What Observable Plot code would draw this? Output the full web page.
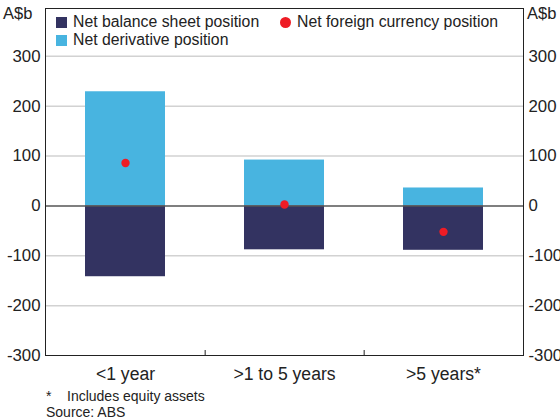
<!DOCTYPE html>
<html>
<head>
<meta charset="utf-8">
<script src="https://cdn.jsdelivr.net/npm/d3@7"></script>
<script src="https://cdn.jsdelivr.net/npm/@observablehq/plot@0.6"></script>
<style>
  html, body { margin: 0; padding: 0; background: #fff; overflow: hidden; }
  #wrap { position: relative; width: 560px; height: 419px; font-family: "Liberation Sans", Arial, sans-serif; color: #222; }
  #chart { position: absolute; left: 0; top: 0; }
  .unit { position: absolute; top: 4px; font-size: 16.5px; }
  .leg { position: absolute; font-size: 15.8px; white-space: nowrap; }
  .sw { display: inline-block; width: 11px; height: 11px; margin-right: 6px; vertical-align: -1px; }
  .dot { display: inline-block; width: 11px; height: 11px; border-radius: 50%; margin-right: 6px; vertical-align: -1px; }
  .note { position: absolute; left: 46px; font-size: 14px; white-space: nowrap; }
</style>
</head>
<body>
<div id="wrap">
  <div id="chart"></div>
  <div class="unit" style="left:3px">A$b</div>
  <div class="unit" style="left:527px">A$b</div>
  <div class="leg" style="left:56px; top:13px"><span class="sw" style="background:#333361"></span>Net balance sheet position</div>
  <div class="leg" style="left:56px; top:31px"><span class="sw" style="background:#48B4E0"></span>Net derivative position</div>
  <div class="leg" style="left:280px; top:13px"><span class="dot" style="background:#EE1C25"></span>Net foreign currency position</div>
  <div class="note" style="top:388px"><span style="display:inline-block;width:21px">*</span>Includes equity assets</div>
  <div class="note" style="top:404px">Source: ABS</div>
</div>
<script>
const categories = ["<1 year", ">1 to 5 years", ">5 years*"];
const balanceSheet = [-142, -88, -89];
const derivative = [229, 92, 36];
const foreignCurrency = [86, 3, -52];
const yTicks = [-300, -200, -100, 0, 100, 200, 300];

const W = 560, H = 390, ML = 45, MR = 37, MT = 8, MB = 35;
const half = (W - ML - MR) / categories.length / 2;

const rows = categories.map((c, i) => ({cat: c, bal: balanceSheet[i], der: derivative[i], fx: foreignCurrency[i]}));

const chart = Plot.plot({
  width: W, height: H,
  marginLeft: ML, marginRight: MR, marginTop: MT, marginBottom: MB,
  style: {fontFamily: "Liberation Sans, Arial, sans-serif", fontSize: "16.5px", color: "#222"},
  x: {type: "band", domain: categories, paddingInner: 0.5, paddingOuter: 0.25, label: null},
  y: {domain: [-300, 396], label: null},
  marks: [
    Plot.ruleY(yTicks.filter(d => d !== 0 && d !== -300), {stroke: "#d2d2d2", strokeWidth: 1.5}),
    Plot.barY(rows, {x: "cat", y1: 0, y2: "der", fill: "#48B4E0"}),
    Plot.barY(rows, {x: "cat", y1: 0, y2: "bal", fill: "#333361"}),
    Plot.ruleY([0], {stroke: "#555", strokeWidth: 1.5}),
    Plot.dot(rows, {x: "cat", y: "fx", r: 4.2, fill: "#EE1C25"}),
    Plot.ruleX(categories.slice(0, -1), {x: d => d, dx: half, y1: -300, y2: -290, stroke: "#222"}),
    Plot.axisY({anchor: "left", ticks: yTicks, tickFormat: d => String(d), tickSize: 0, tickPadding: 5, label: null, fontSize: 16.8}),
    Plot.axisY({anchor: "right", ticks: yTicks, tickFormat: d => String(d), tickSize: 0, tickPadding: 5, label: null, fontSize: 16.8}),
    Plot.axisX({tickSize: 0, tickPadding: 12, label: null, fontSize: 17.6}),
    Plot.frame({stroke: "#222", strokeWidth: 1})
  ]
});
document.getElementById("chart").appendChild(chart);
</script>
</body>
</html>
